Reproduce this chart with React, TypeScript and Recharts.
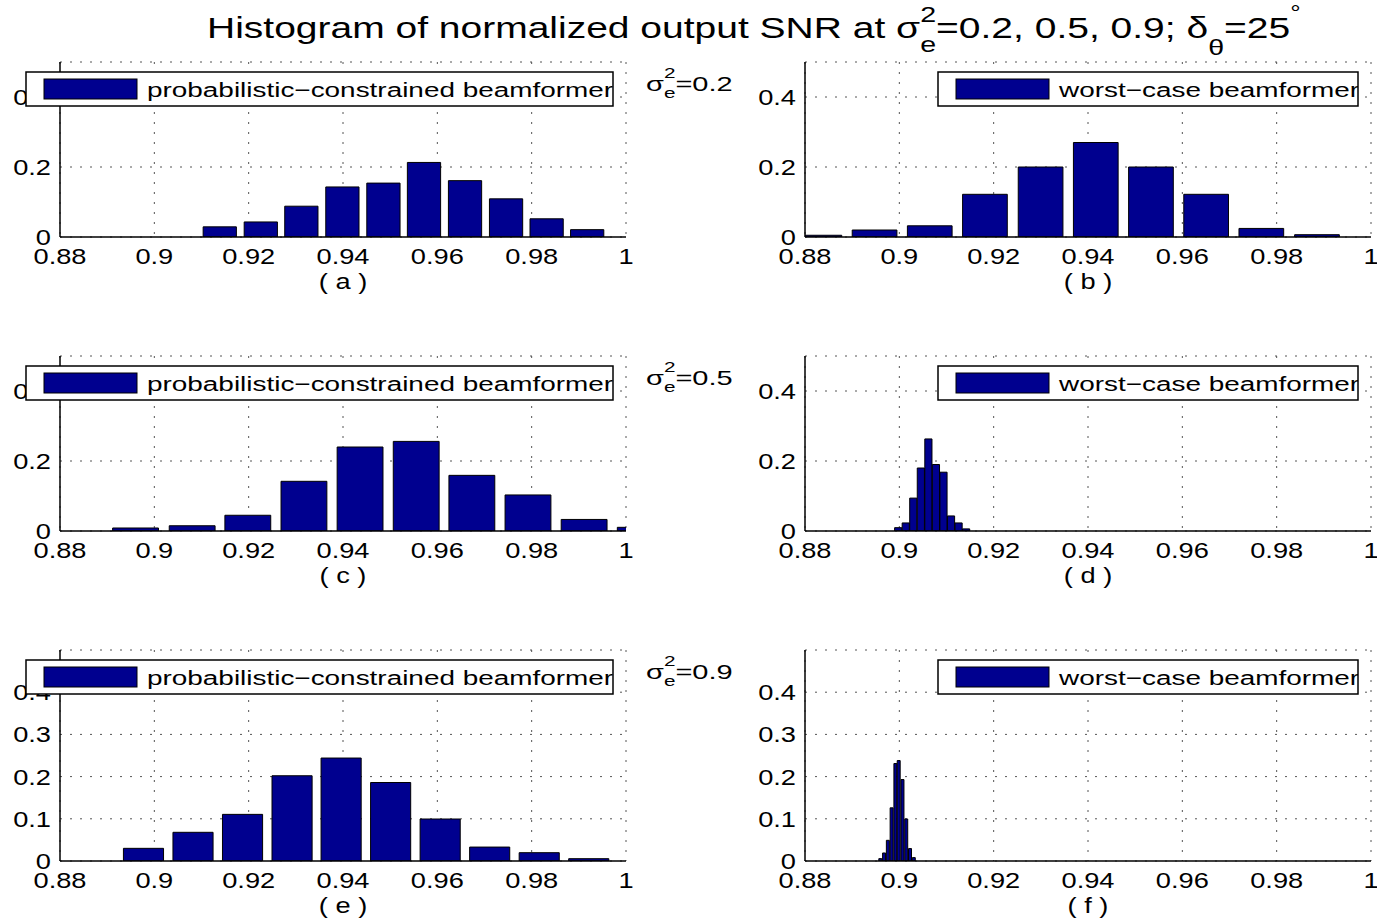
import { BarChart, Bar, XAxis, YAxis, CartesianGrid } from "recharts";

const xTicks = [0.88, 0.9, 0.92, 0.94, 0.96, 0.98, 1];
const yTicksTop = [0, 0.2, 0.4];
const yTicksBottom = [0, 0.1, 0.2, 0.3, 0.4];

// (a) probabilistic-constrained, sigma_e^2 = 0.2
const binsA = [0.9138, 0.9225, 0.9311, 0.9398, 0.9485, 0.9571, 0.9658, 0.9745, 0.9831, 0.9917];
const freqA = [0.029, 0.043, 0.088, 0.143, 0.154, 0.213, 0.161, 0.109, 0.052, 0.021];
// (b) worst-case, sigma_e^2 = 0.2
const binsB = [0.8831, 0.8948, 0.9065, 0.9182, 0.93, 0.9417, 0.9534, 0.9651, 0.9768, 0.9886];
const freqB = [0.005, 0.02, 0.032, 0.122, 0.2, 0.27, 0.2, 0.122, 0.0245, 0.0066];
// (c) probabilistic-constrained, sigma_e^2 = 0.5
const binsC = [0.896, 0.908, 0.9198, 0.9317, 0.9436, 0.9555, 0.9673, 0.9792, 0.9911, 1.003];
const freqC = [0.0086, 0.015, 0.045, 0.142, 0.24, 0.256, 0.159, 0.103, 0.033, 0.0105];
// (d) worst-case, sigma_e^2 = 0.5
const binsD = [0.8998, 0.9014, 0.903, 0.9046, 0.9062, 0.9078, 0.9094, 0.911, 0.9126, 0.9142];
const freqD = [0.0095, 0.023, 0.094, 0.18, 0.263, 0.19, 0.168, 0.043, 0.023, 0.006];
// (e) probabilistic-constrained, sigma_e^2 = 0.9
const binsE = [0.8978, 0.9083, 0.9188, 0.9293, 0.9397, 0.9502, 0.9607, 0.9712, 0.9817, 0.9922];
const freqE = [0.03, 0.068, 0.1105, 0.202, 0.244, 0.186, 0.0995, 0.033, 0.0197, 0.0055];
// (f) worst-case, sigma_e^2 = 0.9
const binsF = [0.896, 0.8968, 0.8976, 0.8984, 0.8992, 0.8999, 0.9007, 0.9015, 0.9023, 0.9031];
const freqF = [0.0056, 0.019, 0.049, 0.126, 0.231, 0.238, 0.193, 0.0996, 0.0295, 0.008];

const FONT = "'Liberation Sans', Arial, Helvetica, sans-serif";
const NAVY = "#00008f";
const PLOT_W = 566;
const Y_W = 60;
const M_TOP = 10;
const M_RIGHT = 20;
const X_H = 70;
const TICK_SX = 1.21;
const TICK_FS = 22.5;

function XTick(props: any) {
  const { x, y, payload } = props;
  return (
    <g transform={`translate(${x},${y + 27}) scale(${TICK_SX},1)`}>
      <text textAnchor="middle" fontSize={TICK_FS} fontFamily={FONT} fill="#000">
        {payload.value}
      </text>
    </g>
  );
}

function YTick(props: any) {
  const { x, y, payload } = props;
  return (
    <g transform={`translate(${x},${y}) scale(${TICK_SX},1)`}>
      <text textAnchor="end" dy={8} fontSize={TICK_FS} fontFamily={FONT} fill="#000">
        {payload.value}
      </text>
    </g>
  );
}

interface HistProps {
  bins: number[];
  freq: number[];
  left: number;
  top: number;
  h: number;
  yTicks: number[];
  fill: number;
}

function Hist({ bins, freq, left, top, h, yTicks, fill }: HistProps) {
  const data = bins.map((x, i) => ({ x, y: freq[i] }));
  const step = bins[1] - bins[0];
  const barSize = ((step * PLOT_W) / 0.12) * fill;
  return (
    <div style={{ position: "absolute", left: left - Y_W, top: top - M_TOP }}>
      <BarChart
        width={Y_W + PLOT_W + M_RIGHT}
        height={M_TOP + h + X_H}
        data={data}
        margin={{ top: M_TOP, right: M_RIGHT, left: 0, bottom: 0 }}
      >
        <CartesianGrid stroke="#555" strokeWidth={1} strokeDasharray="2 8" />
        <XAxis
          dataKey="x"
          type="number"
          domain={[0.88, 1]}
          ticks={xTicks}
          allowDataOverflow
          height={X_H}
          tickLine={false}
          tickSize={0}
          tickMargin={0}
          axisLine={{ stroke: "#000", strokeWidth: 1.5 }}
          tick={<XTick />}
          interval={0}
        />
        <YAxis
          type="number"
          domain={[0, 0.5]}
          ticks={yTicks}
          allowDataOverflow
          width={Y_W}
          tickLine={false}
          tickSize={0}
          tickMargin={9}
          axisLine={{ stroke: "#000", strokeWidth: 1.5 }}
          tick={<YTick />}
          interval={0}
        />
        <Bar
          dataKey="y"
          fill={NAVY}
          stroke="#000"
          strokeWidth={1}
          barSize={barSize}
          isAnimationActive={false}
        />
      </BarChart>
    </div>
  );
}

function LegendBox({ x, y, w, text, id }: { x: number; y: number; w: number; text: string; id: string }) {
  return (
    <g>
      <defs>
        <clipPath id={id}>
          <rect x={x} y={y} width={w} height={34} />
        </clipPath>
      </defs>
      <rect x={x} y={y} width={w} height={34} fill="#fff" stroke="#000" strokeWidth={1.5} />
      <rect x={x + 18} y={y + 7} width={93} height={20} fill={NAVY} stroke="#000" strokeWidth={1} />
      <g clipPath={`url(#${id})`}>
        <g transform={`translate(${x + 121},${y + 25.3}) scale(1.33,1)`}>
          <text fontSize={21} fontFamily={FONT} fill="#000">
            {text}
          </text>
        </g>
      </g>
    </g>
  );
}

function SigmaNote({ x, y, value }: { x: number; y: number; value: string }) {
  return (
    <g transform={`translate(${x},${y}) scale(1.38,1)`}>
      <text fontSize={21} fontFamily={FONT} fill="#000">
        σ
        <tspan fontSize={15} dy={-13}>2</tspan>
        <tspan fontSize={15} dx={-8.3} dy={20}>e</tspan>
        <tspan fontSize={21} dy={-7}>={value}</tspan>
      </text>
    </g>
  );
}

function SubLabel({ x, y, text }: { x: number; y: number; text: string }) {
  return (
    <g transform={`translate(${x},${y}) scale(${TICK_SX},1)`}>
      <text textAnchor="middle" fontSize={TICK_FS} fontFamily={FONT} fill="#000">
        {text}
      </text>
    </g>
  );
}

const LEFT_X = 60;
const RIGHT_X = 805;
const ROW_TOP = [62, 356, 650];
const ROW_H = [175, 175, 211];
const PC_LABEL = "probabilistic−constrained beamformer";
const WC_LABEL = "worst−case beamformer";

export default function App() {
  return (
    <div
      style={{
        position: "absolute",
        left: 0,
        top: 0,
        width: 1377,
        height: 921,
        background: "#fff",
        overflow: "hidden",
      }}
    >
      <Hist bins={binsA} freq={freqA} left={LEFT_X} top={ROW_TOP[0]} h={ROW_H[0]} yTicks={yTicksTop} fill={0.81} />
      <Hist bins={binsB} freq={freqB} left={RIGHT_X} top={ROW_TOP[0]} h={ROW_H[0]} yTicks={yTicksTop} fill={0.81} />
      <Hist bins={binsC} freq={freqC} left={LEFT_X} top={ROW_TOP[1]} h={ROW_H[1]} yTicks={yTicksTop} fill={0.81} />
      <Hist bins={binsD} freq={freqD} left={RIGHT_X} top={ROW_TOP[1]} h={ROW_H[1]} yTicks={yTicksTop} fill={0.95} />
      <Hist bins={binsE} freq={freqE} left={LEFT_X} top={ROW_TOP[2]} h={ROW_H[2]} yTicks={yTicksBottom} fill={0.81} />
      <Hist bins={binsF} freq={freqF} left={RIGHT_X} top={ROW_TOP[2]} h={ROW_H[2]} yTicks={yTicksBottom} fill={0.95} />

      <svg
        width={1377}
        height={921}
        style={{ position: "absolute", left: 0, top: 0, pointerEvents: "none" }}
      >
        <g transform="translate(207,38) scale(1.3,1)">
          <text fontSize={30} fontFamily={FONT} fill="#000">
            Histogram of normalized output SNR at σ
            <tspan fontSize={22} dy={-16}>2</tspan>
            <tspan fontSize={22} dx={-12.2} dy={30}>e</tspan>
            <tspan fontSize={30} dy={-14}>=0.2, 0.5, 0.9; δ</tspan>
            <tspan fontSize={22} dy={17}>θ</tspan>
            <tspan fontSize={30} dy={-17}>=25</tspan>
            <tspan fontSize={20} dy={-18}>°</tspan>
          </text>
        </g>

        {ROW_TOP.map((t, i) => (
          <g key={i}>
            <LegendBox id={`lgl${i}`} x={26} y={t + 10} w={587} text={PC_LABEL} />
            <LegendBox id={`lgr${i}`} x={938} y={t + 10} w={420} text={WC_LABEL} />
            <SigmaNote x={646} y={t + 29} value={["0.2", "0.5", "0.9"][i]} />
            <SubLabel x={LEFT_X + PLOT_W / 2} y={t + ROW_H[i] + 52} text={`( ${["a", "c", "e"][i]} )`} />
            <SubLabel x={RIGHT_X + PLOT_W / 2} y={t + ROW_H[i] + 52} text={`( ${["b", "d", "f"][i]} )`} />
          </g>
        ))}
      </svg>
    </div>
  );
}
